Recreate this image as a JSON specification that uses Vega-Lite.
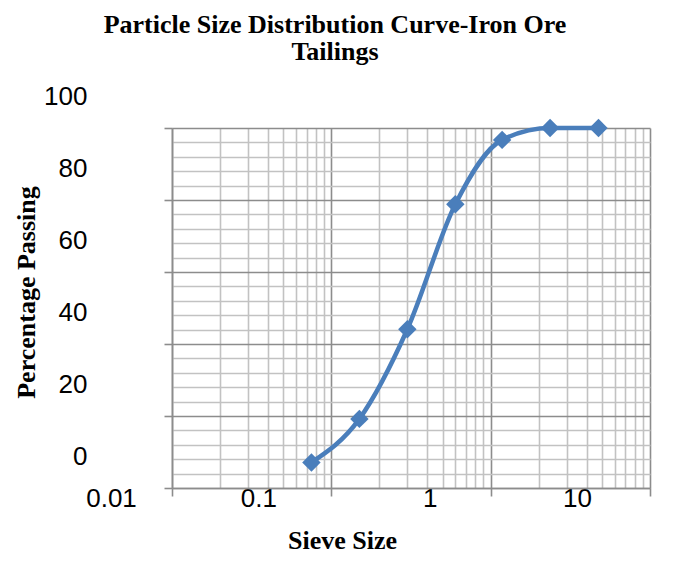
{
  "$schema": "https://vega.github.io/schema/vega-lite/v6.json",
  "width": 478,
  "height": 360,
  "autosize": "none",
  "padding": {"left": 172, "top": 128, "right": 50, "bottom": 97},
  "background": "white",
  "config": {"view": {"stroke": null}},
  "title": {
    "text": ["Particle Size Distribution Curve-Iron Ore", "Tailings"],
    "font": "Liberation Serif",
    "fontSize": 26,
    "fontWeight": "bold",
    "color": "black",
    "anchor": "middle",
    "frame": "group",
    "dx": -76,
    "lineHeight": 27,
    "baseline": "alphabetic",
    "offset": -3
  },
  "data": {
    "values": [
      {"size": 0.075, "passing": 7.1},
      {"size": 0.15, "passing": 19.2},
      {"size": 0.3, "passing": 44.1},
      {"size": 0.6, "passing": 78.8},
      {"size": 1.18, "passing": 96.7},
      {"size": 2.36, "passing": 100},
      {"size": 4.75, "passing": 100}
    ]
  },
  "encoding": {
    "x": {
      "field": "size",
      "type": "quantitative",
      "scale": {"type": "log", "domain": [0.01, 10], "nice": false},
      "axis": {
        "values": [0.01, 0.02, 0.03, 0.04, 0.05, 0.06, 0.07, 0.08, 0.09, 0.1, 0.2, 0.3, 0.4, 0.5, 0.6, 0.7, 0.8, 0.9, 1, 2, 3, 4, 5, 6, 7, 8, 9, 10],
        "grid": true,
        "gridColor": {"condition": {"test": "datum.value == 0.01 || datum.value == 0.1 || datum.value == 1 || datum.value == 10", "value": "#8c8c8c"}, "value": "#c2c2c2"},
        "gridWidth": 1.6,
        "domainColor": "#8c8c8c",
        "domainWidth": 1.6,
        "tickSize": 8,
        "tickWidth": 1.6,
        "tickColor": "#8c8c8c",
        "tickOpacity": {"condition": {"test": "datum.value == 0.01 || datum.value == 0.1 || datum.value == 1 || datum.value == 10", "value": 1}, "value": 0},
        "labelExpr": "datum.value == 0.01 ? '0.01' : datum.value == 0.1 ? '0.1' : datum.value == 1 ? '1' : datum.value == 10 ? '10' : ''",
        "labelFont": "Liberation Sans Narrow, Liberation Sans",
        "labelFontSize": 26,
        "labelColor": "black",
        "labelBaseline": "alphabetic",
        "labelPadding": 10,
        "labelOffset": {"condition": {"test": "datum.value == 0.1 || datum.value == 10", "value": -73}, "value": -61},
        "labelOverlap": false,
        "labelFlush": false,
        "labelBound": false,
        "title": "Sieve Size",
        "titleFont": "Liberation Serif",
        "titleFontSize": 26,
        "titleFontWeight": "bold",
        "titleColor": "black",
        "titleX": 170,
        "titleY": 60,
        "titleBaseline": "alphabetic",
        "titleAlign": "center"
      }
    },
    "y": {
      "field": "passing",
      "type": "quantitative",
      "scale": {"domain": [0, 100], "nice": false},
      "axis": {
        "values": [0, 4, 8, 12, 16, 20, 24, 28, 32, 36, 40, 44, 48, 52, 56, 60, 64, 68, 72, 76, 80, 84, 88, 92, 96, 100],
        "grid": true,
        "gridColor": {"condition": {"test": "datum.value % 20 === 0", "value": "#8c8c8c"}, "value": "#c2c2c2"},
        "gridWidth": 1.6,
        "domainColor": "#8c8c8c",
        "domainWidth": 1.6,
        "tickSize": 8,
        "tickWidth": 1.6,
        "tickColor": "#8c8c8c",
        "tickOpacity": {"condition": {"test": "datum.value % 20 === 0", "value": 1}, "value": 0},
        "labelExpr": "datum.value % 20 === 0 ? datum.label : ''",
        "labelFont": "Liberation Sans Narrow, Liberation Sans",
        "labelFontSize": 26,
        "labelColor": "black",
        "labelBaseline": "alphabetic",
        "labelOffset": -24,
        "labelPadding": 77,
        "labelOverlap": false,
        "labelFlush": false,
        "labelBound": false,
        "title": "Percentage  Passing",
        "titleFont": "Liberation Serif",
        "titleFontSize": 26,
        "titleFontWeight": "bold",
        "titleColor": "black",
        "titleX": -138,
        "titleY": 164,
        "titleAngle": -90,
        "titleBaseline": "alphabetic",
        "titleAlign": "center"
      }
    }
  },
  "layer": [
    {
      "mark": {"type": "line", "interpolate": "monotone", "color": "#4a7ebb", "strokeWidth": 4.5}
    },
    {
      "mark": {"type": "point", "shape": "diamond", "filled": true, "size": 340, "color": "#4a7ebb", "opacity": 1}
    }
  ]
}
